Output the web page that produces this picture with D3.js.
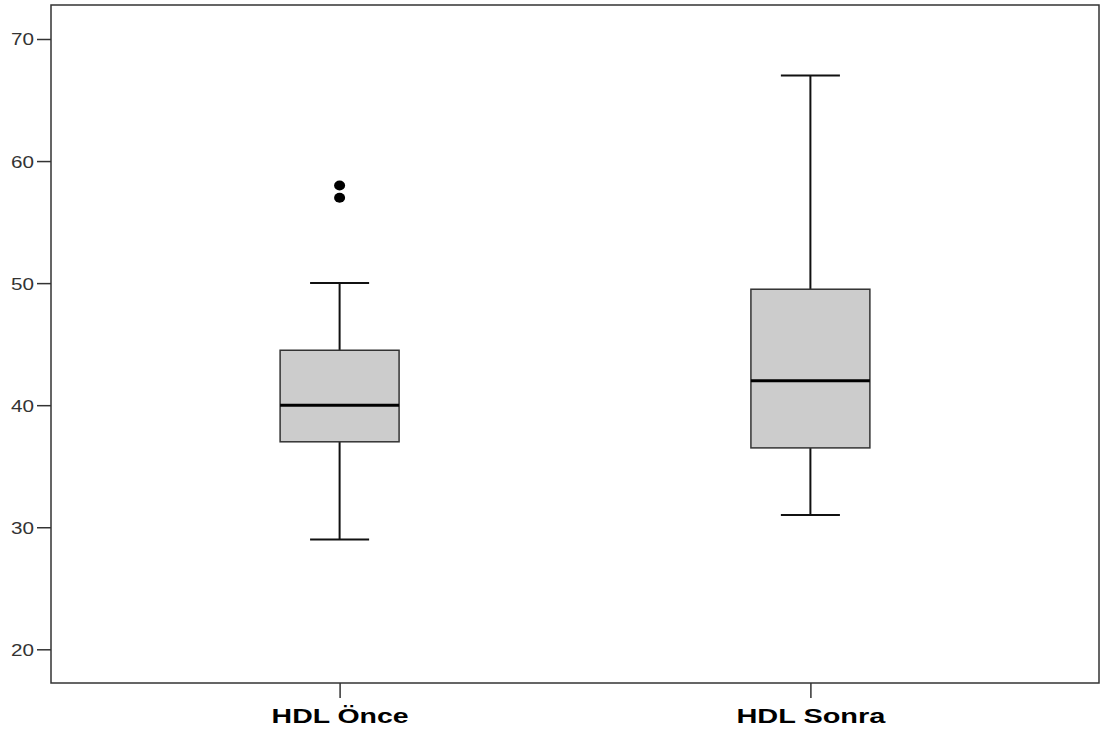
<!DOCTYPE html>
<html><head><meta charset="utf-8">
<script src="https://cdn.jsdelivr.net/npm/d3@7"></script>
<style>body{margin:0;background:#fff}svg{display:block}</style>
</head><body>
<script>
const categories = ["HDL Önce", "HDL Sonra"];
const whiskerLow = [29, 31];
const q1 = [37, 36.5];
const median = [40, 42];
const q3 = [44.5, 49.5];
const whiskerHigh = [50, 67];
const outliers = [[58, 57], []];
const yTicks = [20, 30, 40, 50, 60, 70];

const W = 1103, H = 734;
const L = 51, R = 1099, T = 5, B = 683;
const svg = d3.select("body").append("svg").attr("width", W).attr("height", H);

const y = d3.scaleLinear().domain([20, 70]).range([649.3, 39]);
const x = d3.scalePoint().domain(categories).range([L, R]).padding(0.613);
const step = x.step();
const boxW = step * 0.2527, capW = step * 0.0627;

// frame
svg.append("rect").attr("x", L).attr("y", T).attr("width", R - L).attr("height", B - T)
  .attr("fill", "none").attr("stroke", "#333").attr("stroke-width", 1.5);

// y axis
const yAxis = svg.append("g").attr("transform", `translate(${L},0)`)
  .call(d3.axisLeft(y).tickValues(yTicks).tickSize(14).tickPadding(3).tickFormat(d3.format("d")));
yAxis.select(".domain").remove();
yAxis.selectAll(".tick line").attr("stroke", "#333").attr("stroke-width", 1.5);
yAxis.selectAll(".tick text").attr("font-family", "Liberation Sans, Arial, sans-serif")
  .attr("font-size", 16.5).attr("fill", "#333").attr("dy", "0.36em")
  .attr("textLength", 23).attr("lengthAdjust", "spacingAndGlyphs");

// x axis
const xAxis = svg.append("g").attr("transform", `translate(0,${B})`)
  .call(d3.axisBottom(x).tickSize(15).tickPadding(10));
xAxis.select(".domain").remove();
xAxis.selectAll(".tick line").attr("stroke", "#333").attr("stroke-width", 1.5);
const labelW = {"HDL Önce": 137, "HDL Sonra": 149};
xAxis.selectAll(".tick text").attr("font-family", "Liberation Sans, Arial, sans-serif")
  .attr("font-size", 21).attr("font-weight", "bold").attr("fill", "#000")
  .attr("dy", "0.71em")
  .attr("textLength", d => labelW[d]).attr("lengthAdjust", "spacingAndGlyphs");

// boxes
const data = categories.map((c, i) => ({c, lo: whiskerLow[i], q1: q1[i], med: median[i], q3: q3[i], hi: whiskerHigh[i], out: outliers[i]}));
const g = svg.append("g").selectAll("g").data(data).join("g");

g.append("line").attr("x1", d => x(d.c)).attr("x2", d => x(d.c))
  .attr("y1", d => y(d.q3)).attr("y2", d => y(d.hi)).attr("stroke", "#111").attr("stroke-width", 2);
g.append("line").attr("x1", d => x(d.c)).attr("x2", d => x(d.c))
  .attr("y1", d => y(d.lo)).attr("y2", d => y(d.q1)).attr("stroke", "#111").attr("stroke-width", 2);
g.append("line").attr("x1", d => x(d.c) - capW).attr("x2", d => x(d.c) + capW)
  .attr("y1", d => y(d.hi)).attr("y2", d => y(d.hi)).attr("stroke", "#111").attr("stroke-width", 2);
g.append("line").attr("x1", d => x(d.c) - capW).attr("x2", d => x(d.c) + capW)
  .attr("y1", d => y(d.lo)).attr("y2", d => y(d.lo)).attr("stroke", "#111").attr("stroke-width", 2);
g.append("rect").attr("x", d => x(d.c) - boxW / 2).attr("width", boxW)
  .attr("y", d => y(d.q3)).attr("height", d => y(d.q1) - y(d.q3))
  .attr("fill", "#cccccc").attr("stroke", "#333").attr("stroke-width", 1.5);
g.append("line").attr("x1", d => x(d.c) - boxW / 2).attr("x2", d => x(d.c) + boxW / 2)
  .attr("y1", d => y(d.med)).attr("y2", d => y(d.med)).attr("stroke", "#000").attr("stroke-width", 3);
g.selectAll("ellipse").data(d => d.out.map(v => ({c: d.c, v}))).join("ellipse")
  .attr("cx", d => x(d.c)).attr("cy", d => y(d.v)).attr("rx", 5.5).attr("ry", 5).attr("fill", "#000");
</script>
</body></html>
